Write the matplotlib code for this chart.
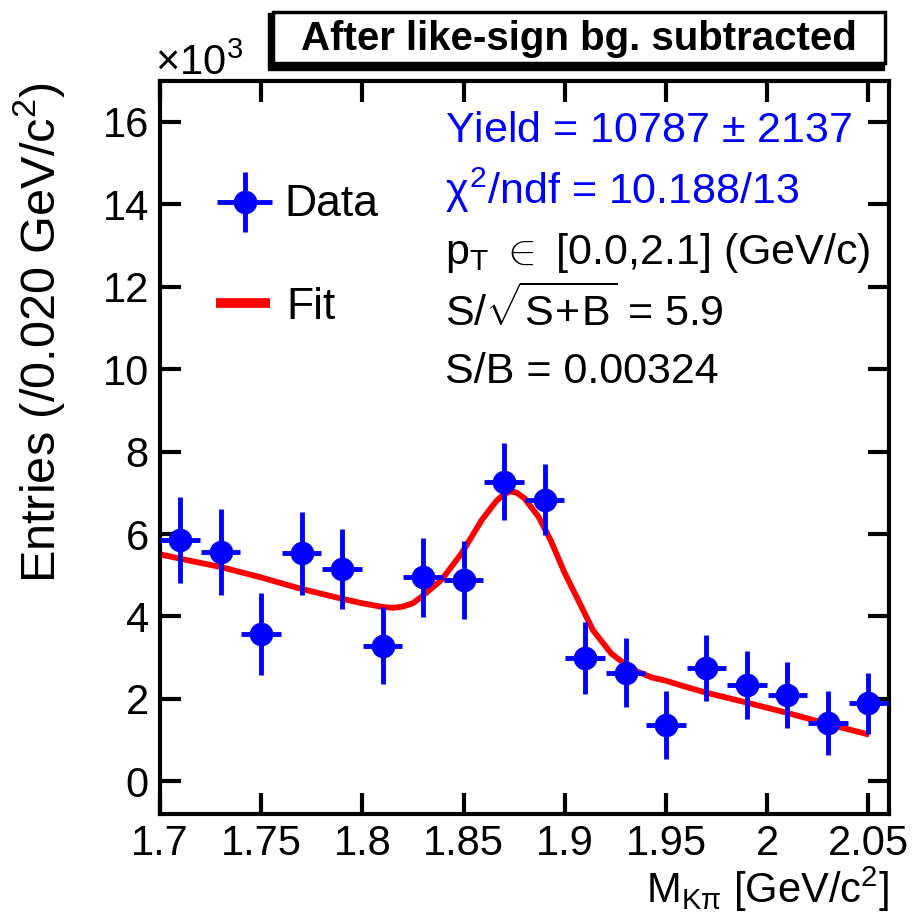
import numpy as np
import matplotlib.pyplot as plt
from matplotlib.patches import Rectangle

plt.rcParams['font.family'] = ['Liberation Sans', 'DejaVu Sans']
plt.rcParams['mathtext.fontset'] = 'custom'
plt.rcParams['mathtext.rm'] = 'Liberation Sans'
plt.rcParams['mathtext.it'] = 'Liberation Sans'

# data points, entries in units of 10^3 per 0.020 GeV/c^2 bin
mass = [1.71, 1.73, 1.75, 1.77, 1.79, 1.81, 1.83, 1.85, 1.87,
        1.89, 1.91, 1.93, 1.95, 1.97, 1.99, 2.01, 2.03, 2.05]
entries = [5.85, 5.57, 3.58, 5.53, 5.14, 3.29, 4.95, 4.88, 7.27,
           6.83, 3.00, 2.64, 1.37, 2.75, 2.34, 2.10, 1.42, 1.89]
errors = [1.05, 1.04, 1.00, 1.00, 0.97, 0.93, 0.96, 0.95, 0.93,
          0.86, 0.87, 0.84, 0.83, 0.81, 0.83, 0.80, 0.78, 0.73]
bin_half = 0.0098

# fit curve
fit_x = [1.700, 1.710, 1.730, 1.749, 1.769, 1.789, 1.800, 1.810, 1.815, 1.820,
         1.825, 1.829, 1.839, 1.849, 1.859, 1.866, 1.870, 1.873, 1.876, 1.880,
         1.887, 1.893, 1.900, 1.907, 1.914, 1.923, 1.933, 1.943, 1.950,
         1.960, 1.970, 1.990, 2.010, 2.030, 2.049]
fit_y = [5.51, 5.40, 5.20, 4.96, 4.68, 4.44, 4.32, 4.23, 4.21, 4.24,
         4.32, 4.47, 4.88, 5.53, 6.34, 6.79, 6.97, 7.03, 7.01, 6.87,
         6.42, 5.85, 5.05, 4.36, 3.66, 3.10, 2.72, 2.52, 2.44,
         2.29, 2.15, 1.91, 1.66, 1.39, 1.15]

x_ticks = [1.7, 1.75, 1.8, 1.85, 1.9, 1.95, 2.0, 2.05]
x_tick_labels = ['1.7', '1.75', '1.8', '1.85', '1.9', '1.95', '2', '2.05']
y_ticks = [0, 2, 4, 6, 8, 10, 12, 14, 16]

stat_lines = [
    (r'Yield = 10787 $\pm$ 2137', 'blue'),
    (r'$\chi^2$/ndf = 10.188/13', 'blue'),
    (r'p$_{\rm T}$ $\in$ [0.0,2.1] (GeV/c)', 'black'),
    (r'S/$\sqrt{\rm S\!+\!B}$ = 5.9', 'black'),
    ('S/B = 0.00324', 'black'),
]
stat_y = [15.77, 14.34, 12.81, 11.41, 9.92]

fig = plt.figure(figsize=(9.19, 9.15), dpi=100)
ax = fig.add_axes([0.174, 0.110, 0.793, 0.802])

ax.plot(fit_x, fit_y, color='red', lw=4.2, zorder=2)
ax.errorbar(mass, entries, yerr=errors, xerr=bin_half, fmt='o', color='blue',
            ms=16, elinewidth=3.5, capsize=0, zorder=3)

ax.set_xlim(1.70, 2.06)
ax.set_ylim(-0.8, 17.0)
ax.set_xticks(x_ticks)
ax.set_xticklabels(x_tick_labels)
ax.set_yticks(y_ticks)
ax.tick_params(direction='in', length=15, width=3, labelsize=30,
               top=True, right=True, pad=8)
ax.tick_params(axis='x', pad=7)
for s in ax.spines.values():
    s.set_linewidth(3)

ax.set_ylabel(r'Entries (/0.020 GeV/c$^2$)', fontsize=35, loc='top')
ax.yaxis.set_label_coords(-0.128, 0.998)
ax.set_xlabel(r'M$_{\rm K\pi}$ [GeV/c$^2$]', fontsize=30, loc='right')
ax.xaxis.set_label_coords(1.0, -0.068)

fig.text(0.169, 0.918, r'$\times$10$^3$', fontsize=30, ha='left', va='baseline')

# legend
ax.errorbar([1.7418], [14.05], yerr=[0.72], xerr=[0.0135], fmt='o', color='blue',
            ms=16, elinewidth=3.5, capsize=0, clip_on=False)
ax.plot([1.7275, 1.7545], [11.6, 11.6], color='red', lw=7, solid_capstyle='butt')
ax.text(1.7615, 14.0, 'Data', fontsize=32, va='center')
ax.text(1.7625, 11.5, 'Fit', fontsize=32, va='center')

# stat text
for (txt, col), yy in zip(stat_lines, stat_y):
    ax.text(1.841, yy, txt, color=col, fontsize=31, va='center')

# title box with shadow
fig.patches.append(Rectangle((0.292, 0.923), 0.670, 0.063, transform=fig.transFigure,
                             facecolor='black', edgecolor='black', zorder=5))
fig.patches.append(Rectangle((0.297, 0.931), 0.666, 0.056, transform=fig.transFigure,
                             facecolor='white', edgecolor='black', lw=2.5, zorder=6))
fig.text(0.630, 0.957, 'After like-sign bg. subtracted', fontsize=29,
         fontweight='bold', ha='center', va='center', zorder=7)

fig.savefig('out.png', dpi=100)
